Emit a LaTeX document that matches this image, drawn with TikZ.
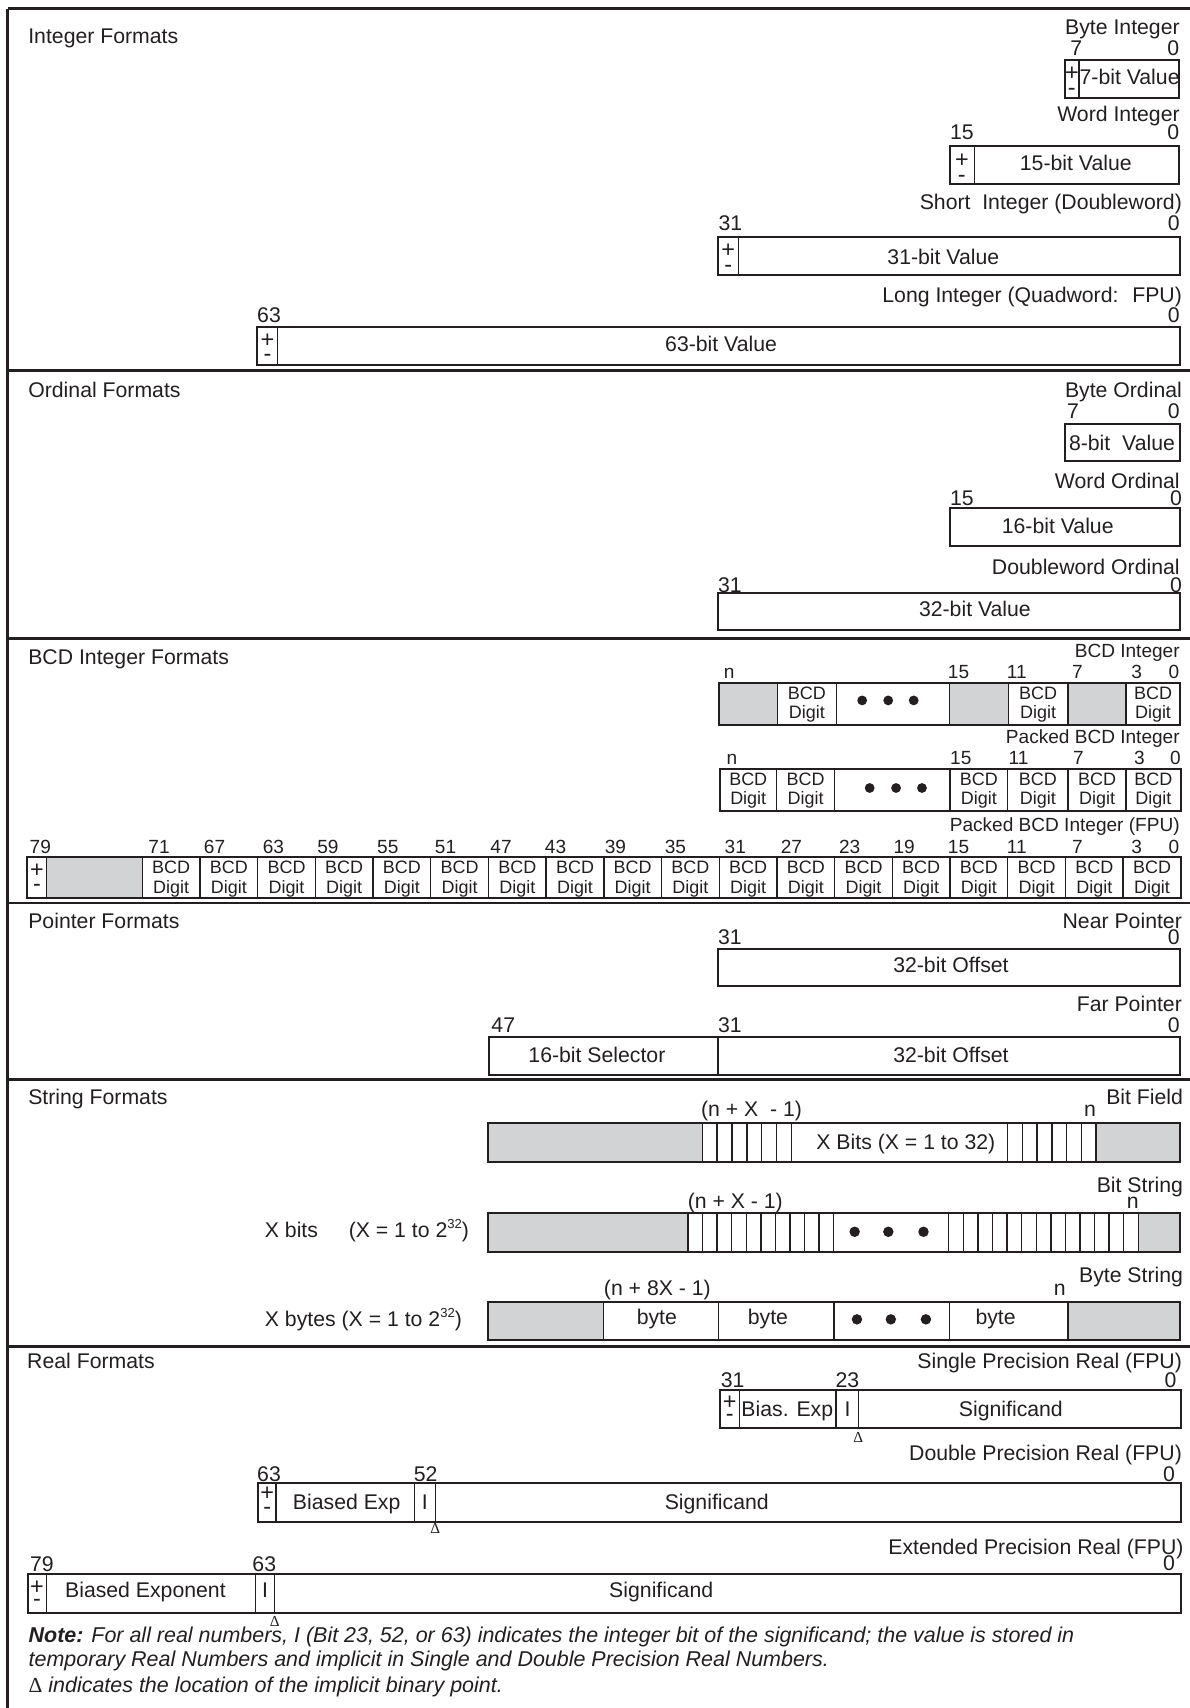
\documentclass[tikz,border=0pt]{standalone}
\usepackage{fontspec}
\setmainfont{Liberation Sans}
\newfontfamily\dfont{Liberation Serif}
\definecolor{ink}{RGB}{35,31,32}
\definecolor{cg}{RGB}{210,211,213}
\newcommand\bcdcell[3]{%
  \node[D,anchor=base] (#3a) at (#1,{#2+15.3}) {BCD};
  \node[D,anchor=base] (#3b) at (#1,{#2+32.8}) {Digit};}
\newcommand\supthirtytwo{\raisebox{0.42em}{\fontsize{12}{12}\selectfont 32}}
\begin{document}
\begin{tikzpicture}[x=1pt,y=-1pt,
  every node/.style={inner sep=0pt,outer sep=0pt,text=ink},
  M/.style={font=\fontsize{19.5}{22}\selectfont},
  PS/.style={font=\fontsize{21.5}{22}\selectfont},
  S/.style={font=\fontsize{17.5}{20}\selectfont},
  D/.style={font=\fontsize{16.5}{18}\selectfont},
  DL/.style={font=\dfont\fontsize{14}{14}\selectfont},
  box/.style={draw=ink,line width=1.8pt},
  dv/.style={draw=ink,line width=1.3pt},
  sepl/.style={draw=ink,line width=2.4pt},
  gr/.style={fill=cg,draw=none},
  dotf/.style={fill=ink,draw=none},
]
\useasboundingbox (0,0) rectangle (1092,1568);
% frame and separators
\draw[sepl] (7,8) -- (1092,8);
\draw[sepl] (7,8) -- (7,1568);
\foreach \yy in {340,586,829,991,1236} {\draw[sepl] (7,\yy) -- (1092,\yy);}

% ================= Integer Formats
\node[M,anchor=base west] (tint) at (26,39.5) {Integer Formats};
\node[M,anchor=base east] (lbi) at (1083,32) {Byte Integer};
\node[M,anchor=base] (bi7) at (988,50.5) {7};
\node[M,anchor=base east] (bi0) at (1082.5,50.5) {0};
\draw[dv] (990.5,55) -- (990.5,90);
\draw[box] (977.6,55) rectangle (1082,90);
\node[PS,anchor=base] (bip) at (984,73.5) {+};
\node[PS,anchor=base] (bim) at (984,88) {-};
\node[M,anchor=base] (biv) at (1037,78) {7-bit Value};

\node[M,anchor=base east] (lwi) at (1083,111.7) {Word Integer};
\node[M,anchor=base] (wi15) at (883,128.5) {15};
\node[M,anchor=base east] (wi0) at (1082.5,128.5) {0};
\draw[dv] (894.6,133.7) -- (894.6,169);
\draw[box] (872,133.7) rectangle (1082.5,169);
\node[PS,anchor=base] (wip) at (883,154) {+};
\node[PS,anchor=base] (wim) at (883,167.7) {-};
\node[M,anchor=base] (wiv) at (987.6,156.6) {15-bit Value};

\node[M,anchor=base east] (lsi) at (1085,192.5) {Short~ Integer (Doubleword)};
\node[M,anchor=base] (si31) at (670.6,212) {31};
\node[M,anchor=base east] (si0) at (1083,212) {0};
\draw[dv] (678,218) -- (678,252.5);
\draw[box] (659,218) rectangle (1083,252.5);
\node[PS,anchor=base] (sip) at (668.5,236.8) {+};
\node[PS,anchor=base] (sim) at (668.5,250) {-};
\node[M,anchor=base] (siv) at (866,243) {31-bit Value};

\node[M,anchor=base east] (lli) at (1085,278) {Long Integer (Quadword:~ FPU)};
\node[M,anchor=base] (li63) at (247,296) {63};
\node[M,anchor=base east] (li0) at (1083,296) {0};
\draw[dv] (255,300.5) -- (255,335);
\draw[box] (236,300.5) rectangle (1083,335);
\node[PS,anchor=base] (lip) at (245.5,318.8) {+};
\node[PS,anchor=base] (lim) at (245.5,332) {-};
\node[M,anchor=base] (liv) at (662,323) {63-bit Value};

% ================= Ordinal Formats
\node[M,anchor=base west] (tord) at (26,365) {Ordinal Formats};
\node[M,anchor=base east] (lbo) at (1085,365) {Byte Ordinal};
\node[M,anchor=base] (bo7) at (985,384.5) {7};
\node[M,anchor=base east] (bo0) at (1083,384.5) {0};
\draw[box] (978,389) rectangle (1083,423.5);
\node[M,anchor=base] (bov) at (1030,414) {8-bit~ Value};

\node[M,anchor=base east] (lwo) at (1083,448) {Word Ordinal};
\node[M,anchor=base] (wo15) at (883,464) {15};
\node[M,anchor=base east] (wo0) at (1085,464) {0};
\draw[box] (872,466) rectangle (1083,501);
\node[M,anchor=base] (wov) at (971,490) {16-bit Value};

\node[M,anchor=base east] (ldo) at (1083,527) {Doubleword Ordinal};
\node[M,anchor=base] (do31) at (670,544) {31};
\node[M,anchor=base east] (do0) at (1085,544) {0};
\draw[box] (659,544) rectangle (1083,578.5);
\node[M,anchor=base] (dov) at (895,566) {32-bit Value};

% ================= BCD Integer Formats
\node[M,anchor=base west] (tbcd) at (26,610) {BCD Integer Formats};
% BCD Integer
\node[S,anchor=base east] (lbcd) at (1083,604) {BCD Integer};
\foreach \x/\t/\nm in {669.5/n/a,880/15/b,933.5/11/c,989/7/d,1043.6/3/e}
  {\node[S,anchor=base] (ba\nm) at (\x,622.5) {\t};}
\node[S,anchor=base east] (baz) at (1082.5,622.5) {0};
\fill[gr] (660.3,627) rectangle (713.5,665.3);
\fill[gr] (871.6,627) rectangle (925.8,665.3);
\fill[gr] (980.4,627) rectangle (1033.8,665.3);
\foreach \x in {713.5,768,871.6,925.8,980.4,1033.8} {\draw[dv] (\x,627) -- (\x,665.3);}
\draw[box] (660.3,627) rectangle (1083.2,665.3);
\bcdcell{740.8}{627}{ra1}
\bcdcell{953.1}{627}{ra2}
\bcdcell{1058.5}{627}{ra3}
\foreach \x in {791.5,815.4,838.8} {\fill[dotf] (\x,643) circle (4.5);}
% Packed BCD Integer
\node[S,anchor=base east] (lpbcd) at (1083,682.7) {Packed BCD Integer};
\foreach \x/\t/\nm in {672/n/a,882/15/b,935/11/c,990/7/d,1046/3/e}
  {\node[S,anchor=base] (bb\nm) at (\x,702) {\t};}
\node[S,anchor=base east] (bbz) at (1084,702) {0};
\foreach \x in {712.8,766.3,872.3,925.1,980.4,1033.8} {\draw[dv] (\x,706) -- (\x,744.8);}
\draw[box] (661,706) rectangle (1084,744.8);
\bcdcell{686.9}{706}{rb1}
\bcdcell{739.6}{706}{rb2}
\bcdcell{898.7}{706}{rb3}
\bcdcell{952.8}{706}{rb4}
\bcdcell{1007.1}{706}{rb5}
\bcdcell{1058.9}{706}{rb6}
\foreach \x in {798.4,822.6,846.4} {\fill[dotf] (\x,723.4) circle (4.5);}
% Packed BCD Integer (FPU)
\node[S,anchor=base east] (lfbcd) at (1083,763.7) {Packed BCD Integer (FPU)};
\foreach \x/\t in {37/79,146/71,197/67,251/63,301/59,356/55,409/51,460/47,510/43,565/39,620/35,675/31,726.5/27,780/23,830/19,880/15,933.5/11,989/7,1043.6/3}
  {\node[S,anchor=base] (fc\t) at (\x,783.6) {\t};}
\node[S,anchor=base east] (fcz) at (1082.5,783.6) {0};
\fill[gr] (42.5,786.7) rectangle (130.6,824);
\draw[dv] (42.5,786.7) -- (42.5,824);
\foreach \i in {0,...,17} {
  \pgfmathsetmacro\xa{130.6+\i*52.97}
  \pgfmathsetmacro\xc{130.6+(\i+0.5)*52.97}
  \draw[dv] (\xa,786.7) -- (\xa,824);
  \bcdcell{\xc}{787}{rc\i}
}
\draw[box] (25,786.7) rectangle (1084,824);
\node[PS,anchor=base] (fcp) at (34,805.5) {+};
\node[PS,anchor=base] (fcm) at (34,818.7) {-};

% ================= Pointer Formats
\node[M,anchor=base west] (tptr) at (26,852) {Pointer Formats};
\node[M,anchor=base east] (lnp) at (1085,852) {Near Pointer};
\node[M,anchor=base] (np31) at (670,867.5) {31};
\node[M,anchor=base east] (np0) at (1083,867.5) {0};
\draw[box] (659,871) rectangle (1083,905.5);
\node[M,anchor=base] (npv) at (873,893) {32-bit Offset};
\node[M,anchor=base east] (lfp) at (1085,929) {Far Pointer};
\node[M,anchor=base] (fp47) at (462,948) {47};
\node[M,anchor=base] (fp31) at (670,948) {31};
\node[M,anchor=base east] (fp0) at (1083,948) {0};
\draw[dv] (659,952) -- (659,986.5);
\draw[box] (449,952) rectangle (1083,986.5);
\node[M,anchor=base] (fps) at (548,975) {16-bit Selector};
\node[M,anchor=base] (fpo) at (873,975) {32-bit Offset};

% ================= String Formats
\node[M,anchor=base west] (tstr) at (26,1014) {String Formats};
% Bit Field
\node[M,anchor=base east] (lbf) at (1086,1014) {Bit Field};
\node[M,anchor=base] (bfh) at (690,1025) {(n + X~ - 1)};
\node[M,anchor=base] (bfn) at (1000.6,1025) {n};
\fill[gr] (448,1031) rectangle (644.8,1066.5);
\fill[gr] (1006.3,1031) rectangle (1083.5,1066.5);
\foreach \i in {0,...,6} {\draw[dv] ({644.8+\i*13.6},1031) -- ({644.8+\i*13.6},1066.5);}
\foreach \i in {0,...,6} {\draw[dv] ({925+\i*13.55},1031) -- ({925+\i*13.55},1066.5);}
\draw[box] (448,1031) rectangle (1083.5,1066.5);
\node[M,anchor=base] (bfv) at (831.6,1055.5) {X Bits (X = 1 to 32)};
% Bit String
\node[M,anchor=base east] (lbs) at (1086,1095) {Bit String};
\node[M,anchor=base] (bsh) at (675,1109.7) {(n + X - 1)};
\node[M,anchor=base] (bsn) at (1040,1109) {n};
\node[M,anchor=base west] (bsx) at (243.2,1136.3) {X bits};
\node[M,anchor=base west] (bsr) at (320.2,1136.3) {(X = 1 to 2\supthirtytwo)};
\fill[gr] (448,1114) rectangle (631.6,1149);
\fill[gr] (1045,1114) rectangle (1083.5,1149);
\foreach \i in {0,...,10} {\draw[dv] ({631.6+\i*13.37},1114) -- ({631.6+\i*13.37},1149);}
\foreach \i in {0,...,13} {\draw[dv] ({871+\i*13.38},1114) -- ({871+\i*13.38},1149);}
\draw[box] (448,1114) rectangle (1083.5,1149);
\foreach \x in {784.6,815.5,847.8} {\fill[dotf] (\x,1130.8) circle (4.8);}
% Byte String
\node[M,anchor=base east] (lbys) at (1086,1177.6) {Byte String};
\node[M,anchor=base] (byh) at (603.5,1189.2) {(n + 8X - 1)};
\node[M,anchor=base] (byn) at (973,1189) {n};
\node[M,anchor=base west] (byx) at (243.2,1217.4) {X bytes (X = 1 to 2\supthirtytwo)};
\fill[gr] (448,1195) rectangle (554.2,1230.2);
\fill[gr] (980.4,1195) rectangle (1083.5,1230.2);
\foreach \x in {554.2,659.7,765.5,871.7,980.4} {\draw[dv] (\x,1195) -- (\x,1230.2);}
\draw[box] (448,1195) rectangle (1083.5,1230.2);
\node[M,anchor=base] (by1) at (603,1215.8) {byte};
\node[M,anchor=base] (by2) at (705,1215.8) {byte};
\node[M,anchor=base] (by3) at (914,1215.8) {byte};
\foreach \x in {786.7,817.8,850} {\fill[dotf] (\x,1211.2) circle (4.8);}

% ================= Real Formats
\node[M,anchor=base west] (treal) at (25,1256.5) {Real Formats};
% Single
\node[M,anchor=base east] (lsp) at (1085,1256.5) {Single Precision Real (FPU)};
\node[M,anchor=base] (sp31) at (672.6,1273.3) {31};
\node[M,anchor=base] (sp23) at (778,1273.3) {23};
\node[M,anchor=base east] (sp0) at (1080,1273.3) {0};
\foreach \x in {679,767.4,788} {\draw[dv] (\x,1276.4) -- (\x,1311.2);}
\draw[box] (661,1276.4) rectangle (1084,1311.2);
\node[PS,anchor=base] (spp) at (670,1293.8) {+};
\node[PS,anchor=base] (spm) at (670,1305.3) {-};
\node[M,anchor=base] (spe) at (722.8,1300) {Bias. Exp};
\node[M,anchor=base] (spi) at (778,1300) {I};
\node[M,anchor=base] (sps) at (928,1300) {Significand};
\node[DL,anchor=base] (spd) at (788,1324.4) {Δ};
% Double
\node[M,anchor=base east] (ldp) at (1085,1341.2) {Double Precision Real (FPU)};
\node[M,anchor=base] (dp63) at (247,1359.6) {63};
\node[M,anchor=base] (dp52) at (390.7,1359.6) {52};
\node[M,anchor=base east] (dp0) at (1078.7,1359.6) {0};
\foreach \x in {253.5,380.3,399.6} {\draw[dv] (\x,1361.7) -- (\x,1396.8);}
\draw[box] (237,1361.7) rectangle (1084,1396.8);
\node[PS,anchor=base] (dpp) at (245.3,1377.8) {+};
\node[PS,anchor=base] (dpm) at (245.3,1390) {-};
\node[M,anchor=base] (dpe) at (318.3,1385.6) {Biased Exp};
\node[M,anchor=base] (dpi) at (390,1385.6) {I};
\node[M,anchor=base] (dps) at (658,1385.6) {Significand};
\node[DL,anchor=base] (dpd) at (399.6,1407.5) {Δ};
% Extended
\node[M,anchor=base east] (lep) at (1086.5,1426.9) {Extended Precision Real (FPU)};
\node[M,anchor=base] (ep79) at (38.5,1443) {79};
\node[M,anchor=base] (ep63) at (242.6,1443) {63};
\node[M,anchor=base east] (ep0) at (1078.7,1442) {0};
\foreach \x in {42.8,234.6,252.2} {\draw[dv] (\x,1445.2) -- (\x,1480.4);}
\draw[box] (25.3,1445.2) rectangle (1084,1480.4);
\node[PS,anchor=base] (epp) at (34,1463.8) {+};
\node[PS,anchor=base] (epm) at (34,1474.8) {-};
\node[M,anchor=base] (epe) at (133.5,1466.6) {Biased Exponent};
\node[M,anchor=base] (epi) at (243.4,1466.6) {I};
\node[M,anchor=base] (eps) at (607,1466.6) {Significand};
\node[DL,anchor=base] (epd) at (252.2,1492.8) {Δ};
% Note
\node[M,anchor=base west] (nt1) at (26.3,1508) {\fontsize{19.7}{22}\selectfont\textbf{\textit{Note:}} \textit{For all real numbers, I (Bit 23, 52, or 63) indicates the integer bit of the significand; the value is stored in}};
\node[M,anchor=base west] (nt2) at (26.3,1530) {\fontsize{19.7}{22}\selectfont\textit{temporary Real Numbers and implicit in Single and Double Precision Real Numbers.}};
\node[M,anchor=base west] (nt3) at (26.3,1553.8) {\fontsize{19.7}{22}\selectfont{\dfont Δ} \textit{indicates the location of the implicit binary point.}};
\end{tikzpicture}
\end{document}
